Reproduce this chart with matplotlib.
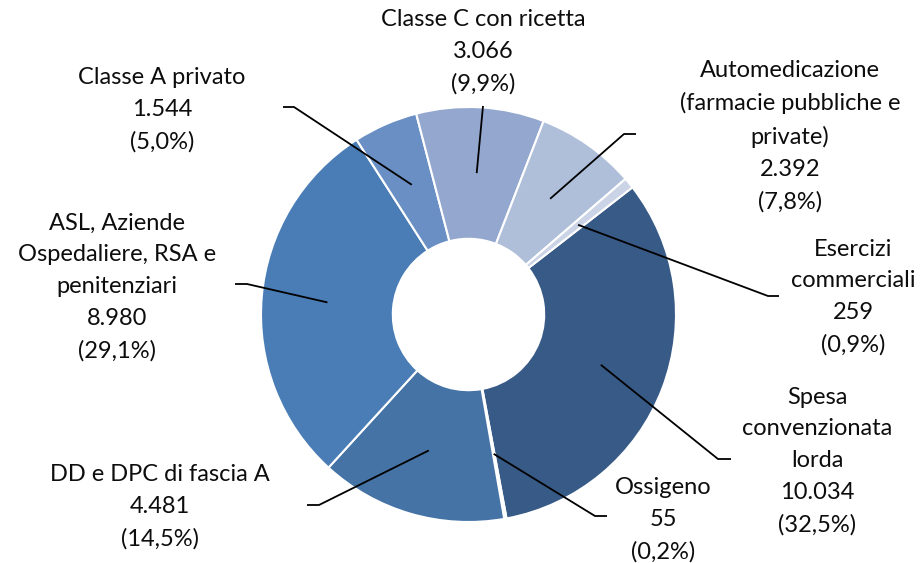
import numpy as np
import matplotlib.pyplot as plt

# data
labels = ['Spesa\nconvenzionata\nlorda', 'Ossigeno', 'DD e DPC di fascia A',
          'ASL, Aziende\nOspedaliere, RSA e\npenitenziari', 'Classe A privato',
          'Classe C con ricetta', 'Automedicazione\n(farmacie pubbliche e\nprivate)',
          'Esercizi\ncommerciali']
values = [10034, 55, 4481, 8980, 1544, 3066, 2392, 259]
shares = ['32,5%', '0,2%', '14,5%', '29,1%', '5,0%', '9,9%', '7,8%', '0,9%']
colors = ['#385A87', '#DCE2EE', '#4573A6', '#4A7DB6', '#6A8FC4',
          '#94A8CF', '#AFBFDA', '#CBD3E6']

# label layout in pixels (from top-left): text centre, elbow, end of leader
text_pos = [(817, 461), (663, 520), (160, 507), (117, 287), (162, 110),
            (483, 52), (790, 136), (853, 297)]
elbow = [(718, 459), (595, 516), (319, 505), (247, 284), (294, 107),
         (483, 106), (624, 134), (768, 296)]
end = [(731, 459), (607, 516), (307, 505), (235, 284), (283, 107),
       (483, 106), (636, 134), (779, 296)]

W, H = 922, 563
cx, cy = 468.5, H - 314.5
r_out, r_in = 207.5, 75.7

plt.rcParams['font.family'] = ['Lato', 'DejaVu Sans']
fig = plt.figure(figsize=(W / 100, H / 100), dpi=100)
ax = fig.add_axes([0, 0, 1, 1])

wedges, _ = ax.pie(values, colors=colors, center=(cx, cy), radius=r_out,
                   startangle=90 - 52.2, counterclock=False,
                   wedgeprops=dict(width=r_out - r_in, edgecolor='white', linewidth=1.5))
ax.set_xlim(0, W)
ax.set_ylim(0, H)
ax.set_aspect('equal')
ax.axis('off')

r_mid = (r_out + r_in) / 2
for i, w in enumerate(wedges):
    mid = np.deg2rad((w.theta1 + w.theta2) / 2)
    px, py = cx + r_mid * np.cos(mid), cy + r_mid * np.sin(mid)
    ex, ey = elbow[i]
    fx, fy = end[i]
    ax.plot([px, ex, fx], [py, H - ey, H - fy], color='black', lw=1.3,
            solid_capstyle='butt')
    txt = '%s\n%s\n(%s)' % (labels[i], f'{values[i]:,}'.replace(',', '.'), shares[i])
    tx, ty = text_pos[i]
    ax.text(tx, H - ty, txt, ha='center', va='center', fontsize=17,
            linespacing=1.63, color='#0d0d0d')

fig.savefig('out.png', dpi=100)
